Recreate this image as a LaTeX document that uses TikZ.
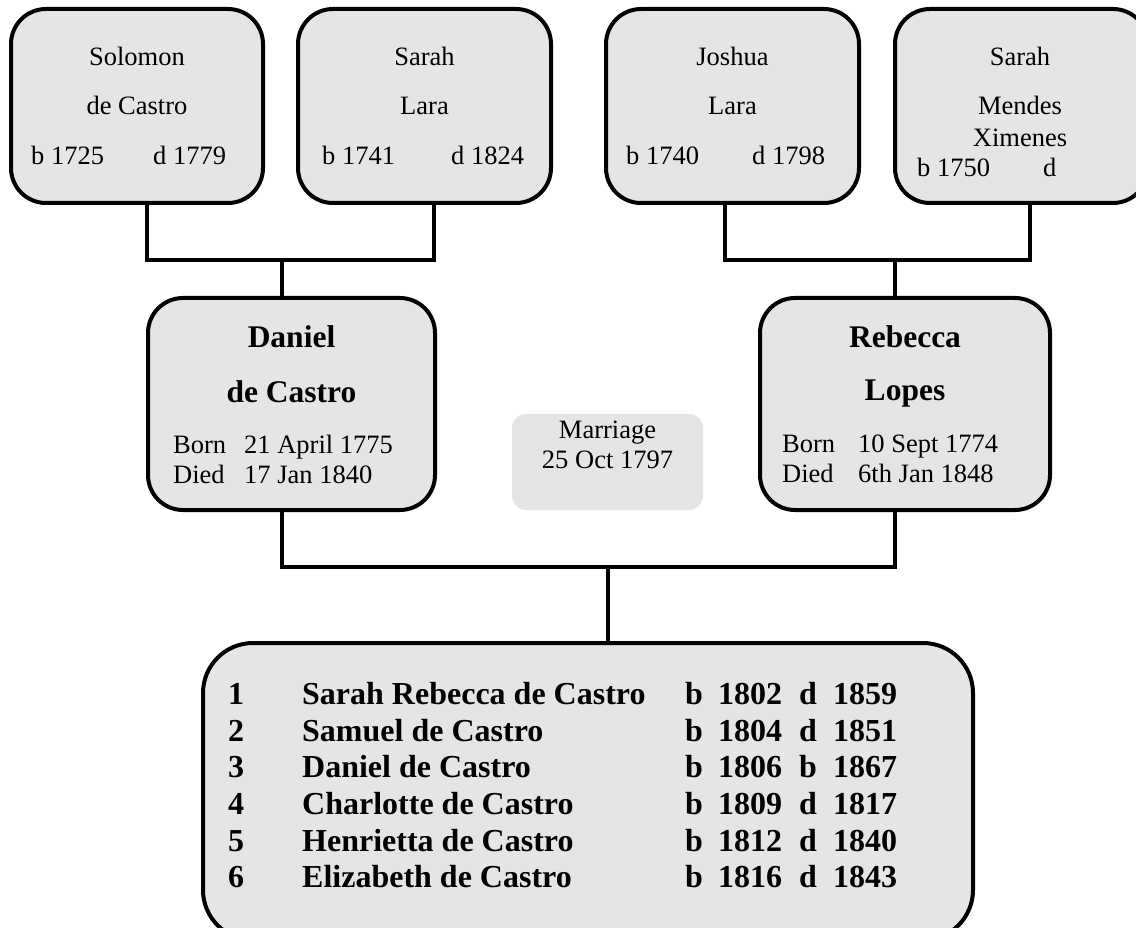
\documentclass[tikz,border=0pt]{standalone}
\usepackage{fontspec}
\setmainfont{Liberation Serif}
\definecolor{boxfill}{RGB}{229,229,229}
\begin{document}
\begin{tikzpicture}[x=1pt,y=-1pt,
  person/.style={draw=black, line width=4pt, fill=boxfill, rounded corners=35pt, inner sep=0pt},
  kidsbox/.style={person, rounded corners=50pt},
  notebox/.style={fill=boxfill, rounded corners=14pt, inner sep=0pt},
  link/.style={line width=4pt},
  txt/.style={font=\fontsize{26.5}{30}\selectfont, inner sep=0pt, anchor=base},
  txtl/.style={txt, anchor=base west},
  ttl/.style={font=\fontsize{31.5}{36}\selectfont\bfseries, inner sep=0pt, anchor=base},
  kid/.style={font=\fontsize{32}{36}\selectfont\bfseries, inner sep=0pt, anchor=base west}]
\useasboundingbox (0,0) rectangle (1136,928);

% grandparents
\node[person, minimum width=252pt, minimum height=194pt] (sol) at (137,106) {};
\node[person, minimum width=253pt, minimum height=194pt] (sarL) at (424.5,106) {};
\node[person, minimum width=253pt, minimum height=194pt] (josh) at (732.5,106) {};
\node[person, minimum width=253pt, minimum height=194pt] (sarM) at (1021.5,106) {};

% parents and marriage note
\node[person, minimum width=287pt, minimum height=212pt] (dan) at (291.5,404) {};
\node[person, minimum width=290pt, minimum height=212pt] (reb) at (905,404) {};
\node[notebox, minimum width=191pt, minimum height=96pt] (mar) at (607.5,462) {};

% children
\node[kidsbox, minimum width=770pt, minimum height=297pt] (kids) at (588,791.5) {};

% junction points of the connectors
\coordinate (barL) at (282,260);
\coordinate (barR) at (895,260);
\coordinate (barC) at (608,567);

% connectors
\draw[link] ([xshift=10pt]sol.south) |- (barL) -| ([xshift=9.5pt]sarL.south);
\draw[link] (barL) -- (barL |- dan.north);
\draw[link] ([xshift=-7.5pt]josh.south) |- (barR) -| ([xshift=8.5pt]sarM.south);
\draw[link] (barR) -- (barR |- reb.north);
\draw[link] (barL |- dan.south) |- (barC) -| (barR |- reb.south);
\draw[link] (barC) -- (barC |- kids.north);

% Solomon de Castro
\node[txt] (solA) at (137,66) {Solomon};
\node[txt] (solB) at (137,115) {de Castro};
\node[txtl] (solC) at (31,165) {b 1725};
\node[txtl] (solD) at (153,165) {d 1779};

% Sarah Lara
\node[txt] (sarLA) at (424.5,66) {Sarah};
\node[txt] (sarLB) at (424.5,115) {Lara};
\node[txtl] (sarLC) at (322,165) {b 1741};
\node[txtl] (sarLD) at (451,165) {d 1824};

% Joshua Lara
\node[txt] (joshA) at (732.5,66) {Joshua};
\node[txt] (joshB) at (732.5,115) {Lara};
\node[txtl] (joshC) at (626,165) {b 1740};
\node[txtl] (joshD) at (752,165) {d 1798};

% Sarah Mendes Ximenes
\node[txt] (sarMA) at (1020,66) {Sarah};
\node[txt] (sarMB) at (1020,115) {Mendes};
\node[txt] (sarMC) at (1020,147) {Ximenes};
\node[txtl] (sarMD) at (917,177) {b 1750};
\node[txtl] (sarME) at (1043,177) {d};

% Daniel de Castro
\node[ttl] (danA) at (291.5,347) {Daniel};
\node[ttl] (danB) at (291.5,402) {de Castro};
\node[txtl] (danC) at (173,453) {Born};
\node[txtl] (danD) at (244,453) {21 April 1775};
\node[txtl] (danE) at (173,483) {Died};
\node[txtl] (danF) at (244,483) {17 Jan 1840};

% Rebecca Lopes
\node[ttl] (rebA) at (905,347) {Rebecca};
\node[ttl] (rebB) at (905,400) {Lopes};
\node[txtl] (rebC) at (782,452) {Born};
\node[txtl] (rebD) at (858,452) {10 Sept 1774};
\node[txtl] (rebE) at (782,482) {Died};
\node[txtl] (rebF) at (858,482) {6th Jan 1848};

% marriage
\node[txt] (marA) at (607.5,438) {Marriage};
\node[txt] (marB) at (607.5,468) {25 Oct 1797};

% list of children
\foreach \y/\num/\name/\born/\dkey/\died in {
  704/1/Sarah Rebecca de Castro/1802/d/1859,
  741/2/Samuel de Castro/1804/d/1851,
  777/3/Daniel de Castro/1806/b/1867,
  814/4/Charlotte de Castro/1809/d/1817,
  851/5/Henrietta de Castro/1812/d/1840,
  887/6/Elizabeth de Castro/1816/d/1843} {
  \node[kid] (num\num) at (228,\y) {\num};
  \node[kid] (name\num) at (302,\y) {\name};
  \node[kid] (bk\num) at (685,\y) {b};
  \node[kid] (by\num) at (718,\y) {\born};
  \node[kid] (dk\num) at (799,\y) {\dkey};
  \node[kid] (dy\num) at (833,\y) {\died};
}
\end{tikzpicture}
\end{document}
